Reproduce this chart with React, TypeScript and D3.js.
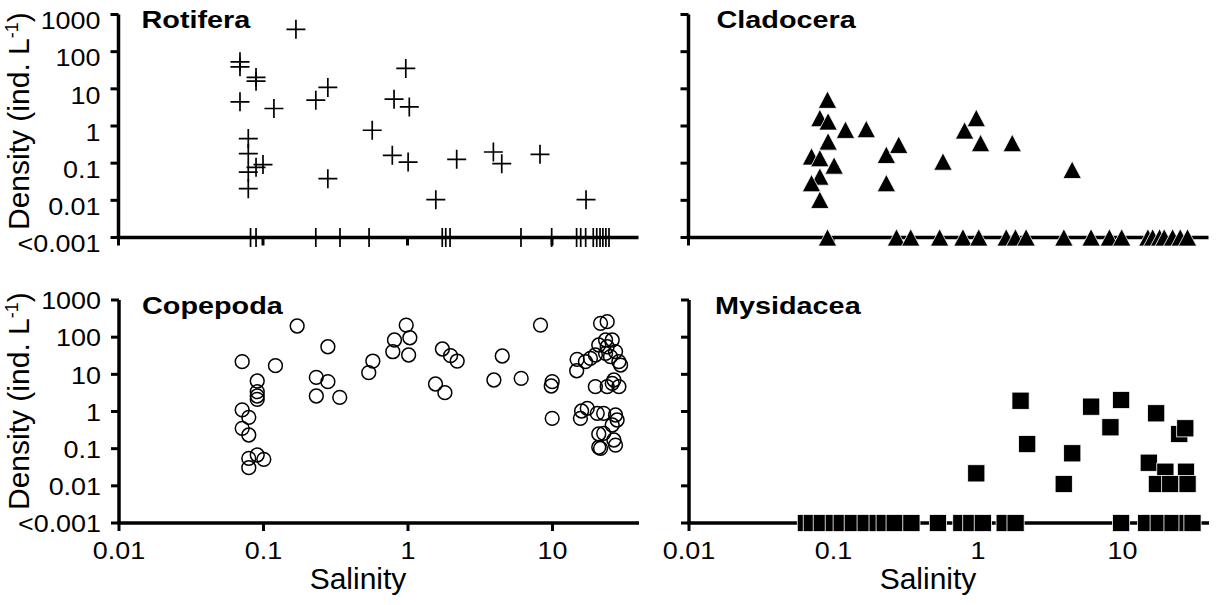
import React from "react";
import * as d3 from "d3";

// ---------- data ----------
const yTickValues = [0.001, 0.01, 0.1, 1, 10, 100, 1000];
const yTickLabels = ["<0.001", "0.01", "0.1", "1", "10", "100", "1000"];
const xTickValues = [0.01, 0.1, 1, 10];
const xTickLabels = ["0.01", "0.1", "1", "10"];

const rotiferaSalinity = [0.0693, 0.0693, 0.0895, 0.0895, 0.0693, 0.119, 0.0791, 0.0791, 0.0791, 0.0895, 0.1, 0.0791, 0.169, 0.973, 0.281, 0.232, 0.807, 1.029, 0.57, 0.785, 1.01, 0.281, 2.19, 1.57, 3.93, 4.49, 8.26, 17.2];
const rotiferaDensity = [53.4, 39.2, 20.3, 16.1, 4.46, 2.96, 0.459, 0.181, 0.0577, 0.0773, 0.0914, 0.0206, 399, 35.5, 10.9, 4.95, 5.27, 3.27, 0.769, 0.163, 0.107, 0.0383, 0.127, 0.0104, 0.2, 0.097, 0.173, 0.0104];
const rotiferaZeroSalinity = [0.082, 0.0895, 0.232, 0.341, 0.542, 1.74, 1.84, 1.97, 6.1, 9.95, 14.8, 15.8, 17.1, 19.3, 20.4, 21.5, 22.5, 23.6, 24.8];

const cladoceraSalinity = [0.0916, 0.0811, 0.0925, 0.122, 0.17, 0.0925, 0.071, 0.0811, 0.1018, 0.0811, 0.071, 0.0811, 0.234, 0.234, 0.285, 0.577, 0.814, 0.981, 1.05, 1.74, 4.52];
const cladoceraDensity = [5.08, 1.63, 1.32, 0.79, 0.825, 0.382, 0.151, 0.136, 0.0861, 0.0435, 0.0289, 0.0103, 0.167, 0.0289, 0.311, 0.11, 0.756, 1.63, 0.346, 0.346, 0.066];
const cladoceraZeroSalinity = [0.0916, 0.275, 0.345, 0.547, 0.793, 1.02, 1.58, 1.83, 2.17, 3.96, 6.11, 8.18, 9.95, 15.1, 16.3, 18.2, 19.6, 22.4, 25.3, 28.4];

const copepodaSalinity = [0.0712, 0.121, 0.171, 0.0905, 0.0905, 0.0905, 0.0905, 0.0712, 0.0791, 0.0712, 0.0791, 0.0791, 0.0905, 0.1005, 0.0791, 0.279, 0.232, 0.279, 0.232, 0.337, 0.571, 0.535, 0.806, 0.972, 1.03, 0.785, 1.01, 1.73, 1.97, 2.19, 1.55, 1.8, 4.49, 3.93, 6.07, 8.26, 9.95, 9.8, 9.95, 14.8, 14.7, 16.9, 18.3, 19.8, 20.9, 21.5, 15.9, 17.4, 15.6, 19.8, 20.4, 20.9, 20.9, 23.9, 25.9, 23.9, 27.3, 25.2, 28.8, 29.6, 23.3, 26.6, 28.8, 23.9, 25.9, 22.6, 27.3, 28.0, 25.9, 22.6, 26.6, 27.3, 21.5, 23.3];
const copepodaDensity = [21.9, 17.1, 200, 6.61, 3.41, 2.61, 2.13, 1.1, 0.698, 0.353, 0.233, 0.0551, 0.0675, 0.0517, 0.0308, 55.3, 8.32, 6.33, 2.61, 2.41, 22.8, 11.1, 83.8, 212, 96.6, 40.6, 33.1, 48.0, 31.7, 22.8, 5.49, 3.21, 31.1, 7.03, 7.82, 212, 6.33, 4.85, 0.656, 25.4, 12.5, 21.9, 27.0, 33.1, 61.5, 236, 1.03, 1.22, 0.656, 4.65, 0.894, 0.248, 0.109, 261, 83.8, 55.3, 40.6, 29.8, 21.9, 17.8, 36.8, 7.03, 4.65, 4.65, 5.73, 0.894, 0.805, 0.59, 0.433, 0.259, 0.171, 0.125, 0.102, 83.8];
const copepodaZeroSalinity: number[] = [];

const mysidaceaSalinity = [1.97, 2.19, 0.973, 6.07, 9.78, 8.25, 4.49, 3.92, 17.1, 24.7, 27.2, 15.2, 19.8, 27.5, 17.3, 21.4, 28.2];
const mysidaceaDensity = [1.95, 0.133, 0.0217, 1.35, 2.04, 0.376, 0.075, 0.0112, 0.894, 0.248, 0.353, 0.0419, 0.024, 0.024, 0.0112, 0.0112, 0.0112];
const mysidaceaZeroSalinity = [0.0644, 0.0708, 0.083, 0.1005, 0.114, 0.136, 0.167, 0.202, 0.226, 0.265, 0.346, 0.528, 0.767, 0.899, 1.08, 1.53, 1.82, 9.78, 14.6, 17.8, 22.2, 28.2, 30.5];

// ---------- layout ----------
const FONT = "'Liberation Sans', Arial, Helvetica, sans-serif";
const PLOT_W = 433.5; // 0.01 .. 10
const AXIS_LEN = 520;
const PLOT_H = 223;

type MarkerType = "plus" | "triangle" | "circle" | "square";

function Marker({ type, x, y }: { type: MarkerType; x: number; y: number }) {
  if (type === "plus") {
    return <path d={`M${x - 9.5},${y}H${x + 9.5}M${x},${y - 9.5}V${y + 9.5}`} stroke="#000" strokeWidth={1.7} fill="none" />;
  }
  if (type === "triangle") {
    return <path d={`M${x},${y - 8.8}L${x + 9.2},${y + 8.6}L${x - 9.2},${y + 8.6}Z`} fill="#000" stroke="#fff" strokeWidth={0.8} />;
  }
  if (type === "square") {
    return <rect x={x - 8.6} y={y - 8.6} width={17.2} height={17.2} fill="#000" stroke="#fff" strokeWidth={0.8} />;
  }
  return <circle cx={x} cy={y} r={6.9} fill="none" stroke="#000" strokeWidth={1.5} />;
}

function Panel(props: {
  ax: number;
  top: number;
  title: string;
  titleDx: number;
  sal: number[];
  den: number[];
  zeros: number[];
  marker: MarkerType;
  yLabels: boolean;
  yLabelDy: number;
  xLabels: boolean;
  yTitleStart: number;
}) {
  const { ax, top, title, titleDx, sal, den, zeros, marker, yLabels, yLabelDy, xLabels, yTitleStart } = props;
  const x = d3.scaleLog().domain([0.01, 10]).range([0, PLOT_W]);
  const y = d3.scaleLog().domain([0.001, 1000]).range([PLOT_H, 0]);
  const y0 = y(0.001);
  return (
    <g>
      {yLabels && (
        <text
          transform={`translate(28.5,${yTitleStart}) rotate(-90)`}
          fontFamily={FONT}
          fontSize={30}
          fill="#000"
        >
          Density (ind. L<tspan dy={-11} fontSize={18}>-1</tspan>
          <tspan dy={11}>)</tspan>
        </text>
      )}
      <g transform={`translate(${ax},${top})`}>
        {/* axes */}
        <line x1={0} x2={0} y1={y(1000)} y2={y0} stroke="#000" strokeWidth={3.5} />
        <line x1={-1.75} x2={AXIS_LEN} y1={y0} y2={y0} stroke="#000" strokeWidth={3.5} />
        {yTickValues.map((v) => (
          <line key={"yt" + v} x1={-8} x2={0} y1={y(v)} y2={y(v)} stroke="#000" strokeWidth={3} />
        ))}
        {xTickValues.map((v) => (
          <line key={"xt" + v} x1={x(v)} x2={x(v)} y1={y0} y2={y0 + 8} stroke="#000" strokeWidth={3} />
        ))}
        {yLabels &&
          yTickValues.map((v, i) => (
            <text
              key={"yl" + v}
              transform={`translate(-18,${y(v) + yLabelDy}) scale(1.17,1)`}
              textAnchor="end"
              dominantBaseline="central"
              fontFamily={FONT}
              fontSize={23}
              fill="#000"
            >
              {yTickLabels[i]}
            </text>
          ))}
        {xLabels &&
          xTickValues.map((v, i) => (
            <text
              key={"xl" + v}
              transform={`translate(${x(v)},${y0 + 36}) scale(1.17,1)`}
              textAnchor="middle"
              fontFamily={FONT}
              fontSize={23}
              fill="#000"
            >
              {xTickLabels[i]}
            </text>
          ))}
        {xLabels && (
          <text x={239} y={y0 + 65.5} textAnchor="middle" fontFamily={FONT} fontSize={30} fill="#000">
            Salinity
          </text>
        )}
        <text
          transform={`translate(${titleDx},${y(1000) + 13.5}) scale(1.2,1)`}
          fontFamily={FONT}
          fontWeight="bold"
          fontSize={24}
          fill="#000"
        >
          {title}
        </text>
        {/* markers */}
        {sal.map((s, i) => (
          <Marker key={"p" + i} type={marker} x={x(s)} y={y(den[i])} />
        ))}
        {zeros.map((s, i) => (
          <Marker key={"z" + i} type={marker} x={x(s)} y={y0} />
        ))}
      </g>
    </g>
  );
}

export default function App() {
  return (
    <svg
      width={1218}
      height={605}
      viewBox="0 0 1218 605"
      style={{ position: "absolute", left: 0, top: 0, background: "#fff" }}
    >
      <rect x={0} y={0} width={1218} height={605} fill="#fff" />
      <Panel ax={118.5} top={14.5} title="Rotifera" titleDx={23} sal={rotiferaSalinity} den={rotiferaDensity} zeros={rotiferaZeroSalinity} marker="plus" yLabels={true} yLabelDy={6.5} xLabels={false} yTitleStart={230} />
      <Panel ax={688.5} top={14.5} title="Cladocera" titleDx={28} sal={cladoceraSalinity} den={cladoceraDensity} zeros={cladoceraZeroSalinity} marker="triangle" yLabels={false} yLabelDy={0} xLabels={false} yTitleStart={0} />
      <Panel ax={119} top={300} title="Copepoda" titleDx={23} sal={copepodaSalinity} den={copepodaDensity} zeros={copepodaZeroSalinity} marker="circle" yLabels={true} yLabelDy={1} xLabels={true} yTitleStart={510} />
      <Panel ax={689} top={300} title="Mysidacea" titleDx={26} sal={mysidaceaSalinity} den={mysidaceaDensity} zeros={mysidaceaZeroSalinity} marker="square" yLabels={false} yLabelDy={0} xLabels={true} yTitleStart={0} />
    </svg>
  );
}
